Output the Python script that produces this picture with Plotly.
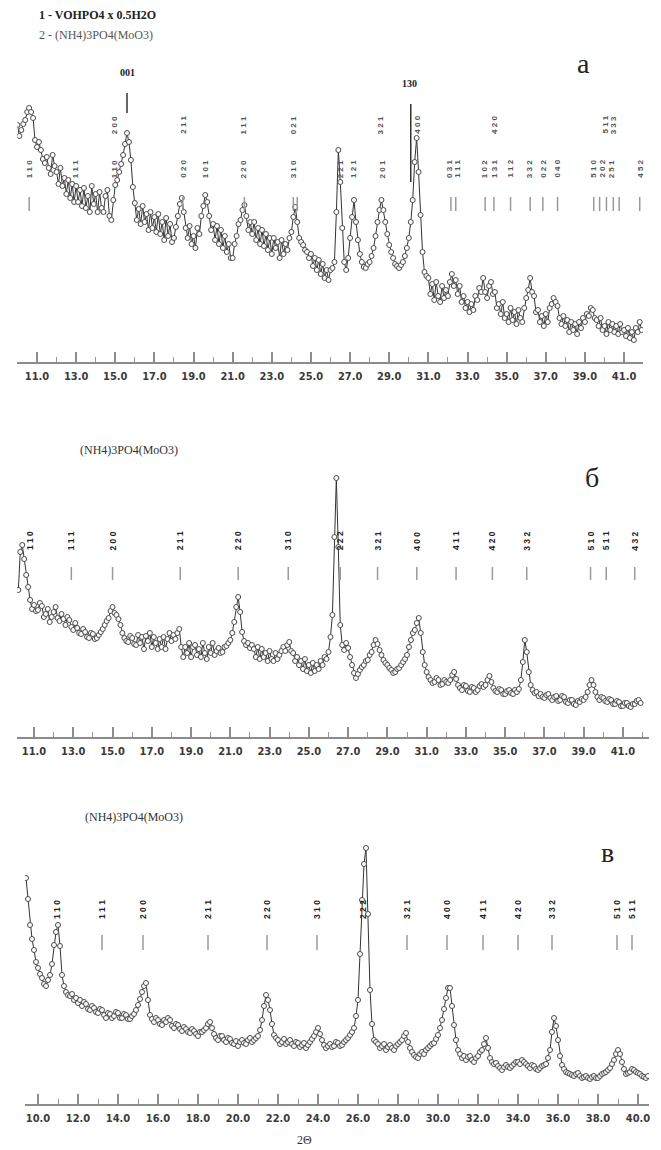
import numpy as np
import plotly.graph_objects as go

W, H = 661, 1150

# ---------------- diffraction scans (2θ step 0.1°) ----------------
# a: VOHPO4·0.5H2O + (NH4)3PO4(MoO3)12, from 10.0°
a_start, a_step = 10.0, 0.1
a_counts = [
    237, 226, 232, 238, 242, 250, 254, 250, 244, 222,
    215, 220, 212, 203, 199, 205, 194, 188, 207, 196,
    190, 178, 194, 176, 184, 168, 182, 164, 178, 160,
    176, 160, 172, 156, 174, 154, 166, 150, 176, 158,
    168, 150, 170, 154, 150, 166, 172, 146, 142, 162,
    177, 182, 190, 198, 207, 218, 229, 220, 202, 175,
    159, 142, 153, 138, 156, 140, 148, 132, 150, 134,
    145, 130, 148, 128, 140, 122, 144, 126, 138, 120,
    124, 135, 146, 158, 164, 150, 134, 124, 136, 118,
    126, 114, 134, 128, 146, 156, 167, 160, 146, 132,
    138, 122, 136, 118, 132, 114, 126, 110, 118, 104,
    104, 118, 126, 138, 142, 152, 157, 146, 132, 140,
    128, 140, 122, 134, 118, 132, 116, 128, 112, 124,
    108, 124, 114, 120, 104, 122, 108, 118, 112, 124,
    130, 145, 155, 140, 124, 120, 117, 112, 110, 104,
    108, 96, 104, 92, 102, 88, 98, 84, 92, 82,
    92, 94, 100, 150, 212, 180, 134, 100, 92, 104,
    124, 145, 162, 140, 122, 108, 100, 95, 94, 98,
    100, 106, 114, 126, 140, 152, 162, 152, 140, 128,
    117, 110, 104, 98, 96, 94, 97, 100, 106, 114,
    124, 140, 162, 200, 224, 190, 147, 110, 90, 86,
    84, 68, 78, 62, 80, 66, 60, 76, 64, 72,
    66, 80, 88, 76, 82, 68, 76, 60, 66, 54,
    60, 50, 58, 52, 66, 62, 74, 70, 84, 70,
    64, 76, 80, 68, 70, 54, 58, 48, 60, 44,
    48, 40, 54, 42, 50, 38, 52, 44, 40, 54,
    64, 72, 84, 70, 66, 50, 52, 40, 46, 36,
    48, 40, 54, 58, 64, 60, 56, 44, 38, 46,
    36, 42, 30, 40, 32, 38, 28, 40, 34, 44,
    40, 48, 46, 54, 52, 44, 42, 36, 44, 32,
    36, 28, 40, 32, 38, 30, 36, 28, 38, 30,
    32, 26, 34, 24, 30, 22, 34, 30, 40, 32]

# б: (NH4)3PO4(MoO3)12, from 10.2°
b_start, b_step = 10.2, 0.1
b_counts = [
    147, 185, 192, 178, 162, 150, 137, 128, 132, 126,
    127, 134, 131, 120, 123, 128, 115, 120, 125, 130,
    119, 116, 123, 118, 112, 120, 117, 110, 107, 114,
    109, 104, 103, 108, 105, 100, 99, 104, 103, 98,
    99, 102, 105, 108, 112, 116, 119, 126, 130, 124,
    122, 118, 112, 104, 99, 96, 95, 101, 99, 93,
    92, 102, 94, 100, 88, 101, 96, 104, 90, 100,
    94, 88, 98, 90, 100, 88, 98, 104, 96, 102,
    98, 104, 108, 90, 80, 90, 84, 94, 80, 90,
    92, 82, 88, 80, 94, 84, 78, 90, 84, 94,
    82, 86, 89, 84, 85, 90, 91, 94, 97, 104,
    115, 130, 140, 125, 105, 96, 92, 94, 89, 92,
    88, 80, 90, 78, 88, 80, 84, 76, 86, 78,
    76, 84, 78, 82, 86, 90, 86, 92, 95, 86,
    84, 76, 80, 72, 76, 68, 78, 66, 72, 64,
    74, 66, 72, 68, 76, 72, 80, 78, 85, 100,
    122, 200, 259, 190, 112, 92, 87, 94, 89, 80,
    72, 64, 59, 63, 67, 70, 72, 76, 77, 82,
    85, 92, 97, 93, 87, 82, 77, 74, 72, 69,
    67, 64, 65, 68, 69, 72, 75, 78, 82, 90,
    97, 104, 107, 114, 119, 104, 85, 72, 65, 60,
    57, 54, 55, 59, 57, 52, 53, 57, 55, 54,
    57, 62, 65, 58, 52, 49, 47, 52, 51, 46,
    45, 50, 49, 45, 47, 51, 53, 50, 52, 57,
    61, 55, 49, 46, 45, 48, 47, 43, 43, 46,
    47, 44, 43, 47, 45, 48, 57, 75, 97, 85,
    65, 52, 47, 44, 45, 41, 43, 40, 39, 42,
    43, 39, 37, 40, 41, 36, 37, 41, 40, 35,
    34, 37, 37, 33, 32, 36, 35, 38, 37, 40,
    45, 52, 57, 52, 45, 40, 37, 40, 39, 36,
    35, 38, 37, 33, 33, 36, 35, 31, 31, 34,
    34, 31, 30, 33, 33, 36, 37, 34]

# в: (NH4)3PO4(MoO3)12, from 9.4°
c_start, c_step = 9.4, 0.1
c_counts = [
    226, 205, 179, 165, 154, 142, 136, 130, 126, 120,
    118, 124, 129, 140, 159, 172, 179, 158, 129, 118,
    112, 109, 108, 110, 104, 106, 101, 104, 98, 102,
    100, 95, 94, 98, 96, 92, 91, 95, 94, 89,
    86, 91, 90, 86, 88, 92, 91, 86, 86, 90,
    89, 85, 85, 88, 90, 94, 99, 105, 112, 118,
    121, 104, 89, 85, 82, 86, 84, 80, 79, 84,
    82, 86, 84, 78, 76, 80, 79, 75, 73, 77,
    75, 72, 71, 75, 73, 70, 68, 72, 72, 74,
    76, 80, 82, 76, 70, 66, 64, 68, 68, 64,
    62, 66, 65, 61, 60, 63, 58, 62, 64, 61,
    60, 64, 66, 62, 64, 66, 68, 74, 84, 98,
    109, 104, 94, 80, 69, 66, 64, 60, 62, 65,
    60, 62, 64, 60, 58, 62, 61, 57, 59, 61,
    56, 59, 62, 65, 68, 72, 76, 70, 64, 59,
    56, 58, 60, 57, 58, 62, 61, 58, 59, 62,
    64, 66, 69, 72, 76, 88, 104, 150, 204, 240,
    256, 190, 114, 80, 64, 62, 60, 56, 58, 60,
    54, 57, 59, 56, 54, 58, 60, 62, 64, 68,
    71, 62, 56, 52, 49, 47, 46, 50, 52, 50,
    54, 56, 58, 60, 61, 65, 69, 76, 84, 95,
    106, 116, 116, 98, 79, 64, 54, 50, 46, 48,
    44, 47, 48, 44, 42, 46, 48, 52, 54, 60,
    66, 56, 46, 42, 40, 41, 38, 36, 34, 37,
    39, 37, 36, 38, 40, 42, 42, 40, 44, 42,
    40, 38, 36, 39, 38, 35, 34, 36, 38, 39,
    40, 46, 54, 72, 86, 78, 64, 48, 39, 35,
    32, 31, 30, 29, 28, 30, 31, 28, 26, 27,
    28, 26, 25, 27, 28, 26, 26, 28, 30, 31,
    32, 34, 36, 40, 44, 50, 54, 50, 42, 35,
    30, 31, 32, 35, 34, 32, 31, 30, 28, 27,
    26, 28]

# ---------------- reflection positions and indices ----------------
a_phase1_pos = [15.6, 30.1]
a_phase1_hkl = ["001", "130"]
a_stick_pos = [10.6, 18.45, 21.6, 24.1, 24.3, 32.15, 32.4, 33.9, 34.35, 35.2,
               36.2, 36.85, 37.6, 39.45, 39.75, 40.1, 40.45, 40.75, 41.8]
a_upper_pos = [14.95, 18.45, 21.55, 24.1, 28.55, 30.4, 34.35, 40.0, 40.45]
a_upper_hkl = ["200", "211", "111", "021", "321", "400", "420", "511", "333"]
a_lower_pos = [10.6, 12.95, 14.95, 18.45, 19.6, 21.55, 24.1, 26.5, 27.15, 28.65,
               32.05, 32.45, 33.85, 34.35, 35.15, 36.15, 36.85, 37.55, 39.4, 39.85,
               40.35, 41.8]
a_lower_hkl = ["110", "111", "110", "020", "101", "220", "310", "221", "121", "201",
               "031", "111", "102", "131", "112", "332", "022", "040", "510", "202",
               "251", "452"]

b_hkl_pos = [10.8, 12.9, 15.0, 18.45, 21.4, 23.95, 26.6, 28.5, 30.5, 32.5,
             34.35, 36.1, 39.35, 40.15, 41.6]
b_hkl = ["110", "111", "200", "211", "220", "310", "222", "321", "400", "411",
         "420", "332", "510", "511", "432"]

c_hkl_pos = [10.95, 13.2, 15.25, 18.5, 21.45, 23.95, 26.25, 28.45, 30.45, 32.25,
             34.0, 35.7, 38.95, 39.7]
c_hkl = ["110", "111", "200", "211", "220", "310", "222", "321", "400", "411",
         "420", "332", "510", "511"]

# ---------------- panel geometry (pixels) ----------------
panels = [
    dict(axis_py=362, top_py=60, px0=17.4, pxs=19.57, left=17.4, right=643,
         major=list(range(11, 42, 2)), minor=list(range(10, 43, 2))),
    dict(axis_py=737, top_py=460, px0=14.4, pxs=19.63, left=17, right=649,
         major=list(range(11, 42, 2)), minor=list(range(12, 43, 2))),
    dict(axis_py=1104, top_py=820, px0=38, pxs=20.0, left=25, right=649,
         major=list(range(10, 41, 2)), minor=list(range(11, 41, 2))),
]

def yp(py):
    return 1 - py / H

TICK_FONT = dict(family="Liberation Sans Narrow, DejaVu Sans Condensed, Arial Narrow, sans-serif",
                 size=11, color="#3a3a3a", weight="bold")
SERIF = "Liberation Serif, Times New Roman, serif"
HKL_FONT = "Liberation Sans, Arial, sans-serif"

fig = go.Figure()
layout = dict(width=W, height=H, margin=dict(l=0, r=0, t=0, b=0),
              paper_bgcolor="white", plot_bgcolor="rgba(0,0,0,0)",
              showlegend=False)

scans = [(a_start, a_step, a_counts), (b_start, b_step, b_counts), (c_start, c_step, c_counts)]
shapes, annotations = [], []

for i, (p, (start, step, counts)) in enumerate(zip(panels, scans)):
    n = "" if i == 0 else str(i + 1)
    xr = [10 + (p["left"] - p["px0"]) / p["pxs"], 10 + (p["right"] - p["px0"]) / p["pxs"]]
    layout["xaxis" + n] = dict(
        domain=[p["left"] / W, p["right"] / W], range=xr, anchor="y" + n,
        showline=True, linecolor="#8c8c8c", linewidth=1.5, showgrid=False, zeroline=False,
        ticks="inside", ticklen=10, tickwidth=1.5, tickcolor="#8c8c8c",
        tickvals=p["major"], ticktext=[f"{v:.1f}" for v in p["major"]],
        minor=dict(ticks="inside", ticklen=5, tickwidth=1.2, tickcolor="#9a9a9a",
                   tickvals=p["minor"]),
        tickfont=TICK_FONT, ticklabelstandoff=3, fixedrange=True)
    layout["yaxis" + n] = dict(
        domain=[yp(p["axis_py"]), yp(p["top_py"])], range=[0, p["axis_py"] - p["top_py"]],
        anchor="x" + n, visible=False, fixedrange=True)
    tt = np.round(start + step * np.arange(len(counts)), 2)
    fig.add_trace(go.Scatter(
        x=tt, y=counts, xaxis="x" + n, yaxis="y" + n, mode="lines+markers",
        line=dict(color="#333333", width=1),
        marker=dict(symbol="circle", size=5, color="white",
                    line=dict(color="#4a4a4a", width=1)),
        hoverinfo="skip"))

def sticks(xref, positions, py0, py1, color="#9a9a9a", width=1.5):
    for x in positions:
        shapes.append(dict(type="line", xref=xref, yref="paper", x0=x, x1=x,
                           y0=yp(py0), y1=yp(py1), line=dict(color=color, width=width)))

def hkl_labels(xref, positions, texts, py, color="#222222", size=8.5):
    for x, t in zip(positions, texts):
        annotations.append(dict(xref=xref, yref="paper", x=x, y=yp(py),
                                text=" ".join(t), textangle=-90, showarrow=False,
                                xanchor="center", yanchor="middle",
                                font=dict(family=HKL_FONT, size=size, color=color, weight="bold")))

def text(px, py, s, size, color="#222222", weight="normal", anchor="left", family=SERIF):
    annotations.append(dict(xref="paper", yref="paper", x=px / W, y=yp(py), text=s,
                            showarrow=False, xanchor=anchor, yanchor="middle",
                            font=dict(family=family, size=size, color=color, weight=weight)))

# panel a
sticks("x", a_stick_pos, 197, 211)
sticks("x", [a_phase1_pos[0]], 93, 113, color="#333333", width=1.5)
sticks("x", [a_phase1_pos[1]], 104, 182, color="#333333", width=1.5)
hkl_labels("x", a_upper_pos, a_upper_hkl, 125, color="#555555", size=8)
hkl_labels("x", a_lower_pos, a_lower_hkl, 169, color="#555555", size=8)
text(127, 73, a_phase1_hkl[0], 10, weight="bold", anchor="center")
text(410, 84, a_phase1_hkl[1], 10, weight="bold", anchor="center")
text(37, 15, "1 - VOHPO4 x 0.5H2O", 12, color="#222222", weight="bold")
text(37, 35, "2 - (NH4)3PO4(MoO3)", 12, color="#555555")
text(583, 63, "a", 28, color="#222222", anchor="center")

# panel б
sticks("x2", b_hkl_pos[1:], 567, 580)
hkl_labels("x2", b_hkl_pos, b_hkl, 541)
text(78, 450, "(NH4)3PO4(MoO3)", 12, color="#333333")
text(592, 477, "б", 28, color="#222222", anchor="center")

# panel в
sticks("x3", [p for p, h in zip(c_hkl_pos, c_hkl) if h not in ("110", "222")], 935, 950)
hkl_labels("x3", c_hkl_pos, c_hkl, 910)
text(83, 817, "(NH4)3PO4(MoO3)", 12, color="#333333")
text(607, 852, "в", 28, color="#222222", anchor="center")
text(304, 1140, "2Θ", 12, color="#333333", anchor="center")

layout["shapes"] = shapes
layout["annotations"] = annotations
fig.update_layout(**layout)
fig.write_html("out.html")
